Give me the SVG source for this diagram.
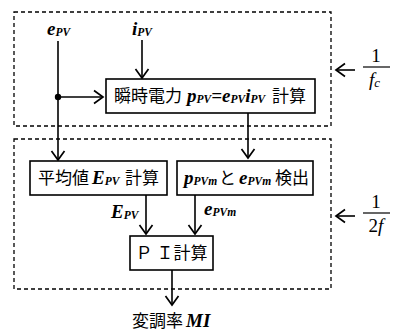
<svg xmlns="http://www.w3.org/2000/svg" width="393" height="333" viewBox="0 0 393 333">
<defs>
<marker id="ah" markerUnits="userSpaceOnUse" markerWidth="16" markerHeight="16" viewBox="-12 -8 16 16" refX="0" refY="0" orient="auto">
<path d="M-9,-6.5 L0,0 L-9,6.5" fill="none" stroke="#000" stroke-width="1.7"/>
</marker>
</defs>
<style>
.dash{fill:none;stroke:#000;stroke-width:1.3;stroke-dasharray:4 3}
.box{fill:#fff;stroke:#000;stroke-width:1.6}
.ln{fill:none;stroke:#000;stroke-width:1.6}
.jp{font-family:"Noto Sans CJK JP",sans-serif;font-size:17px;fill:#000}
.m{font-family:"Liberation Serif",serif;font-style:italic;font-weight:bold;font-size:19px;fill:#000}
.s{font-family:"Liberation Serif",serif;font-style:italic;font-weight:bold;font-size:11.5px}
.n{font-family:"Liberation Serif",serif;font-size:19px;fill:#000}
.ni{font-family:"Liberation Serif",serif;font-style:italic;font-size:19px;fill:#000}
</style>
<g id="frames">
<rect class="dash" x="14" y="12" width="317" height="114"/>
<rect class="dash" x="14" y="139" width="317" height="150"/>
</g>
<g id="connectors">
<line class="ln" x1="58" y1="41" x2="58" y2="160" marker-end="url(#ah)"/>
<line class="ln" x1="58" y1="97" x2="103" y2="97" marker-end="url(#ah)"/>
<circle cx="58" cy="97" r="3.2" fill="#000"/>
<line class="ln" x1="142" y1="40" x2="142" y2="78" marker-end="url(#ah)"/>
<line class="ln" x1="248" y1="113" x2="248" y2="158" marker-end="url(#ah)"/>
<line class="ln" x1="146" y1="195" x2="146" y2="234" marker-end="url(#ah)"/>
<line class="ln" x1="195" y1="195" x2="195" y2="234" marker-end="url(#ah)"/>
<line class="ln" x1="172" y1="270" x2="172" y2="305" marker-end="url(#ah)"/>
<line class="ln" x1="355" y1="70" x2="336" y2="70" marker-end="url(#ah)"/>
<line class="ln" x1="355" y1="216" x2="336" y2="216" marker-end="url(#ah)"/>
</g>
<g id="in-e">
<text class="m" x="47" y="35">e<tspan class="s" dy="1">PV</tspan></text>
</g>
<g id="in-i">
<text class="m" x="132" y="35">i<tspan class="s" dy="1">PV</tspan></text>
</g>
<g id="power">
<rect class="box" x="106" y="79" width="209" height="34"/>
<text y="102"><tspan class="jp" x="114">瞬時電力</tspan><tspan class="m" x="187">p</tspan><tspan class="s" dy="1">PV</tspan><tspan class="m" dy="-1">=e</tspan><tspan class="s" dy="1">PV</tspan><tspan class="m" dy="-1">i</tspan><tspan class="s" dy="1">PV</tspan><tspan class="jp" x="272" dy="-1">計算</tspan></text>
</g>
<g id="avg">
<rect class="box" x="30" y="161" width="137" height="34"/>
<text y="184"><tspan class="jp" x="38">平均値</tspan><tspan class="m" x="92">E</tspan><tspan class="s" dy="1">PV</tspan><tspan class="jp" x="125" dy="-1">計算</tspan></text>
</g>
<g id="detect">
<rect class="box" x="177" y="161" width="136" height="34"/>
<text y="184"><tspan class="m" x="184">p</tspan><tspan class="s" dy="1">PVm</tspan><tspan class="jp" x="219" dy="-1">と</tspan><tspan class="m" x="239">e</tspan><tspan class="s" dy="1">PVm</tspan><tspan class="jp" x="275" dy="-1">検出</tspan></text>
</g>
<g id="lbl-E">
<text class="m" x="111" y="218">E<tspan class="s" dy="1">PV</tspan></text>
</g>
<g id="lbl-e">
<text class="m" x="204" y="215">e<tspan class="s" dy="1">PVm</tspan></text>
</g>
<g id="pi">
<rect class="box" x="130" y="236" width="83" height="34"/>
<text class="jp" x="171.5" y="259" text-anchor="middle">Ｐ Ｉ計算</text>
</g>
<g id="out">
<text y="327"><tspan class="jp" x="132">変調率</tspan><tspan class="m" x="186">MI</tspan></text>
</g>
<g id="fc">
<text class="n" x="376" y="62" text-anchor="middle">1</text>
<line x1="363" y1="67" x2="390" y2="67" stroke="#000" stroke-width="1.2"/>
<text class="ni" x="369" y="86">f<tspan font-size="13" dy="1">c</tspan></text>
</g>
<g id="f2">
<text class="n" x="376" y="208" text-anchor="middle">1</text>
<line x1="363" y1="213" x2="390" y2="213" stroke="#000" stroke-width="1.2"/>
<text x="376" y="232" text-anchor="middle"><tspan class="n">2</tspan><tspan class="ni">f</tspan></text>
</g>
</svg>
